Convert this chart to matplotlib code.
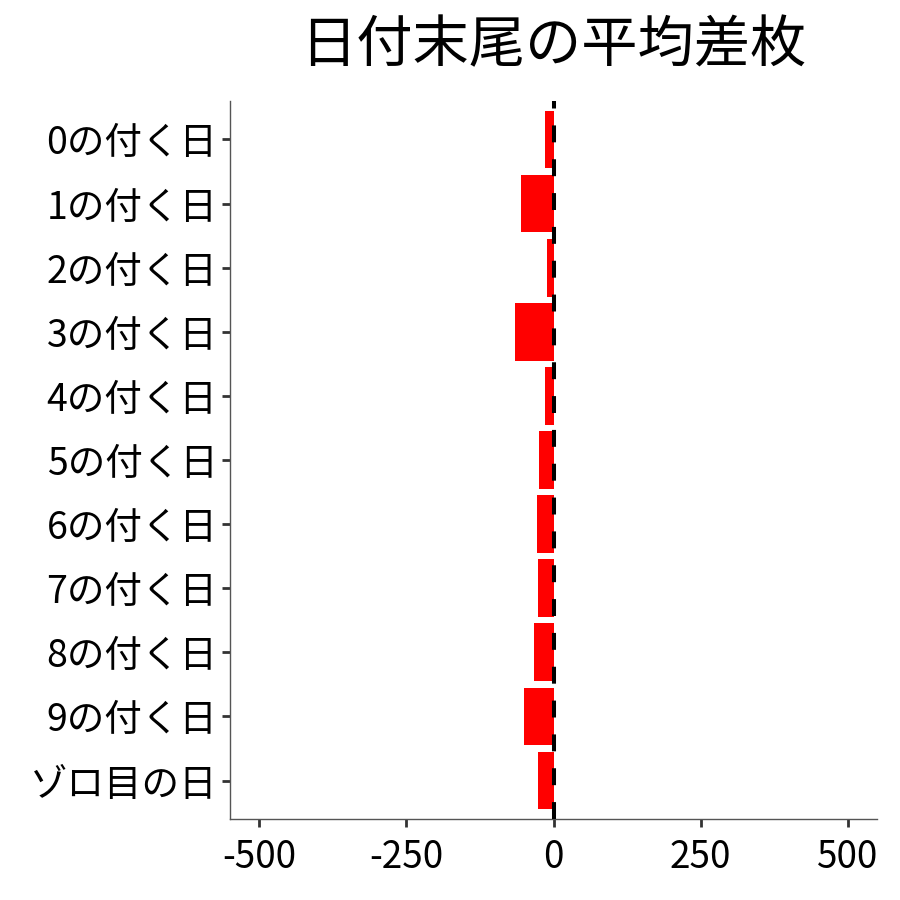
import matplotlib
matplotlib.use("Agg")
import matplotlib.pyplot as plt

plt.rcParams['font.family'] = ['Noto Sans CJK JP', 'DejaVu Sans']

categories = ["0の付く日", "1の付く日", "2の付く日", "3の付く日", "4の付く日",
              "5の付く日", "6の付く日", "7の付く日", "8の付く日", "9の付く日", "ゾロ目の日"]
values = [-15, -55, -11, -65, -15, -24, -28, -26, -33, -50, -26]
xticks = [-500, -250, 0, 250, 500]
title = "日付末尾の平均差枚"

fig = plt.figure(figsize=(9, 9), dpi=100)
ax = fig.add_axes([230/900, 1-819/900, (877-230)/900, (819-101)/900])

ypos = list(range(len(categories)))
ax.barh(ypos, values, height=0.9, color="#FF0000", zorder=2)
ax.axvline(0, color="black", lw=2.9, dashes=(4.2, 4.2), zorder=3)

ax.set_xlim(-550, 550)
ax.set_ylim(len(categories) - 1 + 0.6, -0.6)
ax.set_yticks(ypos)
ax.set_yticklabels(categories, fontsize=27)
ax.set_xticks(xticks)
ax.set_xticklabels([str(t) for t in xticks], fontsize=26.5)

for s in ["top", "right"]:
    ax.spines[s].set_visible(False)
for s in ["left", "bottom"]:
    ax.spines[s].set_color("#555555")
    ax.spines[s].set_linewidth(1.0)
ax.tick_params(axis="both", length=6, width=2, color="#333333", labelcolor="black")
ax.tick_params(axis="y", pad=3)
ax.tick_params(axis="x", pad=8)

fig.text((230+877)/2/900, 1-46/900, title, ha="center", va="center", fontsize=40.5)

fig.savefig("out.png", dpi=100, facecolor="white")
